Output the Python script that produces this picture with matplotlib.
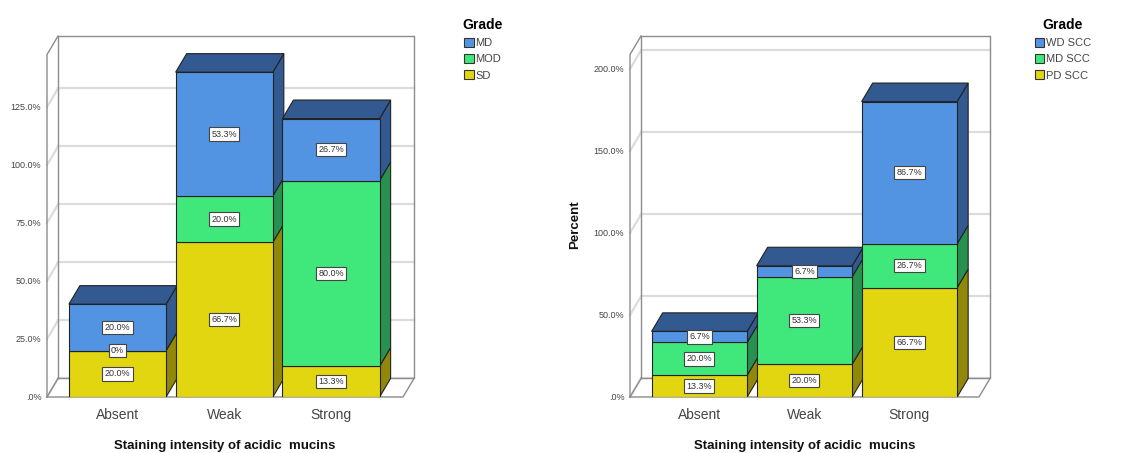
import matplotlib.pyplot as plt
from matplotlib.patches import Polygon, Rectangle

plt.rcParams['font.family'] = ['Liberation Sans', 'DejaVu Sans']

# categories on the x axis
categories = ['Absent', 'Weak', 'Strong']

# left chart: grade series, bottom to top
left_names = ['SD', 'MOD', 'MD']
left_sd = [20.0, 66.7, 13.3]
left_mod = [0.0, 20.0, 80.0]
left_md = [20.0, 53.3, 26.7]
left_ticks = [0, 25, 50, 75, 100, 125]

# right chart: grade series, bottom to top
right_names = ['PD SCC', 'MD SCC', 'WD SCC']
right_pd = [13.3, 20.0, 66.7]
right_mdscc = [20.0, 53.3, 26.7]
right_wd = [6.7, 6.7, 86.7]
right_ticks = [0, 50, 100, 150, 200]

# front / dark (side and top) colours, bottom to top
fronts = ['#e2d610', '#40e87c', '#5294e2']
darks = ['#91870a', '#289150', '#325a91']

W, H = 1130, 453
fig = plt.figure(figsize=(W / 100, H / 100), dpi=100)


def pct(v):
    return '.0%' if v == 0 else f'{v:.1f}%'


def draw_panel(rect, xlim, ylim, ddx, ddy, series, names, ticks, ylabel=None,
               legend_xy=None):
    ax = fig.add_axes([rect[0] / W, (H - rect[1] - rect[3]) / H, rect[2] / W, rect[3] / H])
    ax.set_xlim(*xlim)
    ax.set_ylim(*ylim)
    ax.patch.set_visible(False)
    for s in ax.spines.values():
        s.set_visible(False)

    x0 = xlim[0]
    xr = xlim[1] - ddx
    top = ylim[1]
    frame = dict(color='#8c8c8c', lw=1.0, clip_on=False, zorder=2)
    grid = dict(color='#dcdcdc', lw=1.6, clip_on=False, zorder=1)

    # back wall gridlines and side-wall diagonals
    for t in ticks:
        ax.plot([x0 + ddx, xlim[1]], [t + ddy, t + ddy], **grid)
        ax.plot([x0, x0 + ddx], [t, t + ddy], **grid)
    # walls and floor outline
    ax.plot([x0 + ddx, xlim[1], xlim[1], x0 + ddx, x0 + ddx],
            [ddy, ddy, top, top, ddy], **frame)
    ax.plot([x0, x0, x0 + ddx], [0, top - ddy, top], **frame)
    ax.plot([x0, xr, xlim[1]], [0, 0, ddy], **frame)
    ax.plot([x0, x0 + ddx], [0, ddy], **frame)

    # stacked 3-D bars
    hw = 0.455
    for i in range(len(categories)):
        base = 0.0
        for k, vals in enumerate(series):
            v = vals[i]
            b, t = base, base + v
            ax.add_patch(Rectangle((i - hw, b), 2 * hw, v, facecolor=fronts[k],
                                   edgecolor='#222222', lw=0.8, zorder=5))
            ax.add_patch(Polygon([(i + hw, b), (i + hw + ddx, b + ddy),
                                  (i + hw + ddx, t + ddy), (i + hw, t)],
                                 closed=True, facecolor=darks[k],
                                 edgecolor='#222222', lw=0.8, zorder=4))
            base = t
        ax.add_patch(Polygon([(i - hw, base), (i - hw + ddx, base + ddy),
                              (i + hw + ddx, base + ddy), (i + hw, base)],
                             closed=True, facecolor=darks[-1],
                             edgecolor='#222222', lw=0.8, zorder=4))
        # value labels
        base = 0.0
        for k, vals in enumerate(series):
            v = vals[i]
            txt = '0%' if v == 0 else f'{v:.1f}%'
            ax.text(i, base + v / 2, txt, ha='center', va='center', fontsize=6.5,
                    color='#333333', zorder=8,
                    bbox=dict(boxstyle='square,pad=0.25', facecolor='white',
                              edgecolor='#444444', lw=0.8))
            base += v

    ax.set_yticks(ticks)
    ax.set_yticklabels([pct(t) for t in ticks], fontsize=6.5, color='#444444')
    ax.set_xticks(range(len(categories)))
    ax.set_xticklabels(categories, fontsize=10, color='#444444')
    ax.tick_params(axis='both', length=0)
    ax.tick_params(axis='y', pad=4)
    ax.tick_params(axis='x', pad=8)

    ax.set_xlabel('Staining intensity of acidic  mucins', fontsize=9.5,
                  fontweight='bold', color='#111111')
    ax.xaxis.set_label_coords(((xr + x0) / 2 - xlim[0]) / (xlim[1] - xlim[0]), -0.118)
    if ylabel:
        ax.set_ylabel(ylabel, fontsize=9.5, fontweight='bold', color='#111111')
        ax.yaxis.set_label_coords(-0.135, 0.476)

    handles = [Rectangle((0, 0), 1, 1, facecolor=fronts[k], edgecolor='#333333', lw=0.8)
               for k in range(len(names) - 1, -1, -1)]
    labels = [names[k] for k in range(len(names) - 1, -1, -1)]
    leg = fig.legend(handles, labels, loc='upper left',
                     bbox_to_anchor=(legend_xy[0] / W, 1 - legend_xy[1] / H),
                     frameon=False, title='Grade', fontsize=8,
                     title_fontproperties={'weight': 'bold', 'size': 10},
                     handlelength=0.85, handleheight=0.85, handletextpad=0.15,
                     labelspacing=0.55, borderpad=0, alignment='center')
    for t in leg.get_texts():
        t.set_color('#444444')
    return ax


draw_panel((47, 36, 367, 361), (-0.66, 2.777), (0, 155.6), 0.103, 8.0,
           [left_sd, left_mod, left_md], left_names, left_ticks,
           legend_xy=(457, 12))
draw_panel((630, 36, 360, 361), (-0.661, 2.768), (0, 220.1), 0.105, 11.3,
           [right_pd, right_mdscc, right_wd], right_names, right_ticks,
           ylabel='Percent', legend_xy=(1029, 12))

fig.savefig('out.png', dpi=100)
